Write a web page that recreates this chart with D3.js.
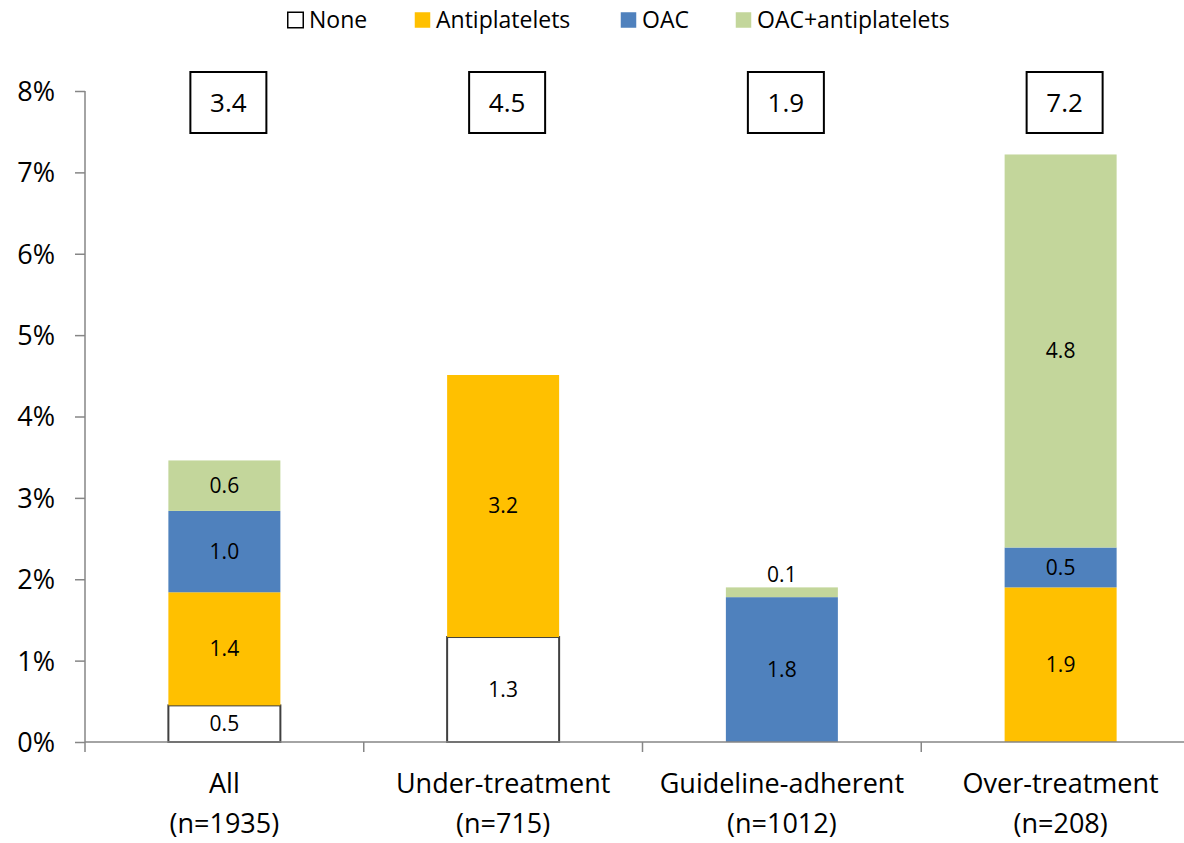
<!DOCTYPE html>
<html><head><meta charset="utf-8">
<script src="https://cdn.jsdelivr.net/npm/d3@7"></script>
<style>body{margin:0;background:#fff}svg{display:block;font-family:"Open Sans",sans-serif}</style>
</head><body><svg id="c" width="1184" height="843"></svg>
<script>
const categories = ["All", "Under-treatment", "Guideline-adherent", "Over-treatment"];
const sampleSizes = ["(n=1935)", "(n=715)", "(n=1012)", "(n=208)"];
const seriesNames = ["None", "Antiplatelets", "OAC", "OAC+antiplatelets"];
const seriesColors = ["#FFFFFF", "#FFC000", "#4F81BD", "#C3D69B"];
const noneValues = [0.45, 1.29, 0, 0];
const antiplateletValues = [1.39, 3.22, 0, 1.9];
const oacValues = [1.0, 0, 1.78, 0.49];
const comboValues = [0.62, 0, 0.12, 4.83];
const segmentLabels = [["0.5","1.4","1.0","0.6"],["1.3","3.2","",""],["","","1.8","0.1"],["","1.9","0.5","4.8"]];
const totalLabels = ["3.4", "4.5", "1.9", "7.2"];
const yTicks = [0,1,2,3,4,5,6,7,8];

const svg = d3.select("#c");
const x = d3.scaleBand().domain(categories).range([85, 1200]).paddingInner(0).paddingOuter(0);
const y = d3.scaleLinear().domain([0, 8]).range([742, 91]);
const bw = 112;

const rows = categories.map((c, i) => ({cat: c, None: noneValues[i], Antiplatelets: antiplateletValues[i], OAC: oacValues[i], "OAC+antiplatelets": comboValues[i]}));
const stacked = d3.stack().keys(seriesNames)(rows);

// y axis
const yAxis = d3.axisLeft(y).tickValues(yTicks).tickFormat(d => d + "%").tickSize(10).tickPadding(20);
const gy = svg.append("g").attr("transform", "translate(85,0)").call(yAxis);
gy.select(".domain").attr("stroke", "#868686").attr("stroke-width", 1.5).attr("d", "M0," + y(8) + "V" + y(0));
gy.selectAll(".tick line").attr("stroke", "#868686").attr("stroke-width", 1.5);
gy.selectAll(".tick text").attr("font-size", 27).attr("fill", "#000").attr("font-family", "Open Sans").attr("dy", "0.35em");

// bars
stacked.forEach((s, si) => {
  svg.append("g").selectAll("rect").data(s.filter(d => d[1] - d[0] > 0)).join("rect")
    .attr("x", d => x(d.data.cat) + (x.bandwidth() - bw) / 2)
    .attr("width", bw)
    .attr("y", d => y(d[1]))
    .attr("height", d => y(d[0]) - y(d[1]))
    .attr("fill", seriesColors[si])
    .attr("stroke", si === 0 ? "#404040" : "none")
    .attr("stroke-width", 2);
});

// x axis
const xg = svg.append("g");
xg.append("line").attr("x1", 85).attr("x2", 1200).attr("y1", y(0)).attr("y2", y(0)).attr("stroke", "#868686").attr("stroke-width", 1.5);
const tickXs = [85].concat(categories.map(c => x(c) + x.bandwidth()));
xg.selectAll(".xt").data(tickXs).join("line").attr("x1", d => d).attr("x2", d => d)
  .attr("y1", y(0)).attr("y2", y(0) + 10).attr("stroke", "#868686").attr("stroke-width", 1.5);
const cl = svg.append("g").selectAll("text").data(categories).join("text")
  .attr("text-anchor", "middle").attr("font-size", 27).attr("fill", "#000");
cl.append("tspan").attr("x", d => x(d) + x.bandwidth() / 2).attr("y", 793).text(d => d);
cl.append("tspan").attr("x", d => x(d) + x.bandwidth() / 2).attr("y", 833).text((d, i) => sampleSizes[i]);

// segment labels
stacked.forEach((s, si) => {
  s.forEach((d, ci) => {
    const t = segmentLabels[ci][si];
    if (!t) return;
    const h = y(d[0]) - y(d[1]);
    const cy = h < 20 ? y(d[1]) - 13 : (y(d[0]) + y(d[1])) / 2;
    svg.append("text").attr("x", x(d.data.cat) + x.bandwidth() / 2).attr("y", cy)
      .attr("dy", "0.35em").attr("text-anchor", "middle").attr("font-size", 21).attr("fill", "#000").text(t);
  });
});

// total boxes
const tb = svg.append("g").selectAll("g").data(categories).join("g")
  .attr("transform", d => "translate(" + (x(d) + x.bandwidth() / 2 + 4) + ",102.5)");
tb.append("rect").attr("x", -38).attr("y", -30.5).attr("width", 76).attr("height", 61).attr("fill", "#fff").attr("stroke", "#000").attr("stroke-width", 2);
tb.append("text").attr("text-anchor", "middle").attr("dy", "0.35em").attr("font-size", 26).text((d, i) => totalLabels[i]);

// legend
const legX = [287, 414, 620, 735];
const lg = svg.append("g").selectAll("g").data(seriesNames).join("g").attr("transform", (d, i) => "translate(" + legX[i] + ",19.5)");
lg.append("rect").attr("x", 0.75).attr("y", -7.25).attr("width", 15.5).attr("height", 15.5)
  .attr("fill", (d, i) => seriesColors[i]).attr("stroke", (d, i) => i === 0 ? "#000" : "none").attr("stroke-width", 1.5);
lg.append("text").attr("x", 22).attr("dy", "0.36em").attr("font-size", 23).attr("fill", "#000").text(d => d);
</script></body></html>
